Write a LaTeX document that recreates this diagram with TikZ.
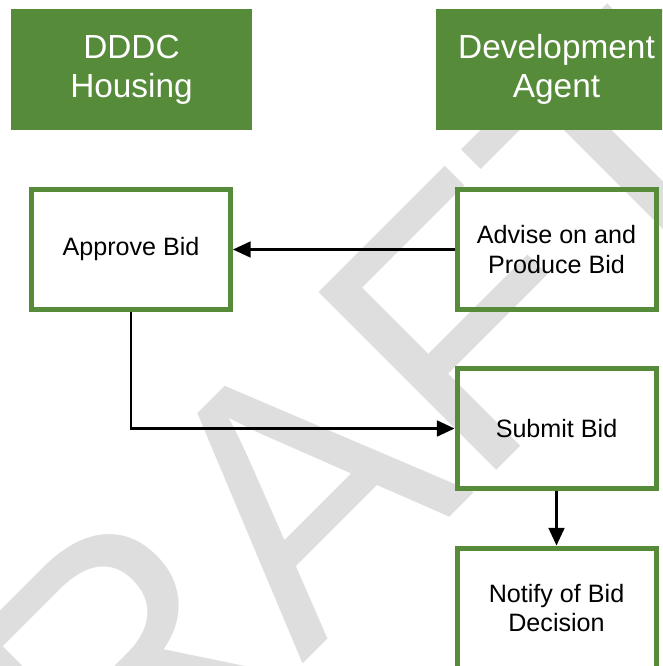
\documentclass[tikz,border=0pt]{standalone}
\usepackage{fontspec}
\setmainfont{Liberation Sans}
\usepackage{xcolor}
\definecolor{leaf}{HTML}{568B3A}
\definecolor{stamp}{HTML}{DEDEDE}
\usepackage{tikz}
\usetikzlibrary{arrows.meta, positioning}

\begin{document}
\begin{tikzpicture}[
    lane/.style={fill=leaf, text=white, minimum width=4.81cm, minimum height=2.41cm, align=center, font=\fontsize{19}{22.2}\selectfont},
    task/.style={draw=leaf, line width=2.85pt, minimum width=3.98cm, minimum height=2.4cm, align=center, font=\fontsize{14.3}{17}\selectfont},
    flow/.style={-{Triangle[length=10pt,width=9pt]}, line width=1.3pt}
]
    \useasboundingbox (0,0) rectangle (13.24,-13.32);
    \clip (0,0) rectangle (13.24,-13.32);

    % watermark behind everything
    \node[text=stamp, rotate=45, anchor=base, inner sep=0pt, font=\fontsize{208}{208}\selectfont] (stamp) at (7.21,-12.13) {DRAFT};

    % lane headers
    \node[lane] (dddc) at (2.63,-1.39) {DDDC\\Housing};
    \node[lane] (agent) at (11.13,-1.39) {Development\\Agent};

    % steps
    \node[task] (approve) at (2.62,-4.99) {Approve Bid};
    \node[task] (advise) at (11.13,-4.99) {Advise on and\\Produce Bid};
    \node[task] (submit) at (11.13,-8.57) {Submit Bid};
    \node[task] (notify) at (11.13,-12.16) {Notify of Bid\\Decision};

    \draw[flow] (advise.west) -- (approve.east);
    \draw[flow] (approve.south) |- (submit.west);
    \draw[flow] (submit.south) -- (notify.north);
\end{tikzpicture}
\end{document}
